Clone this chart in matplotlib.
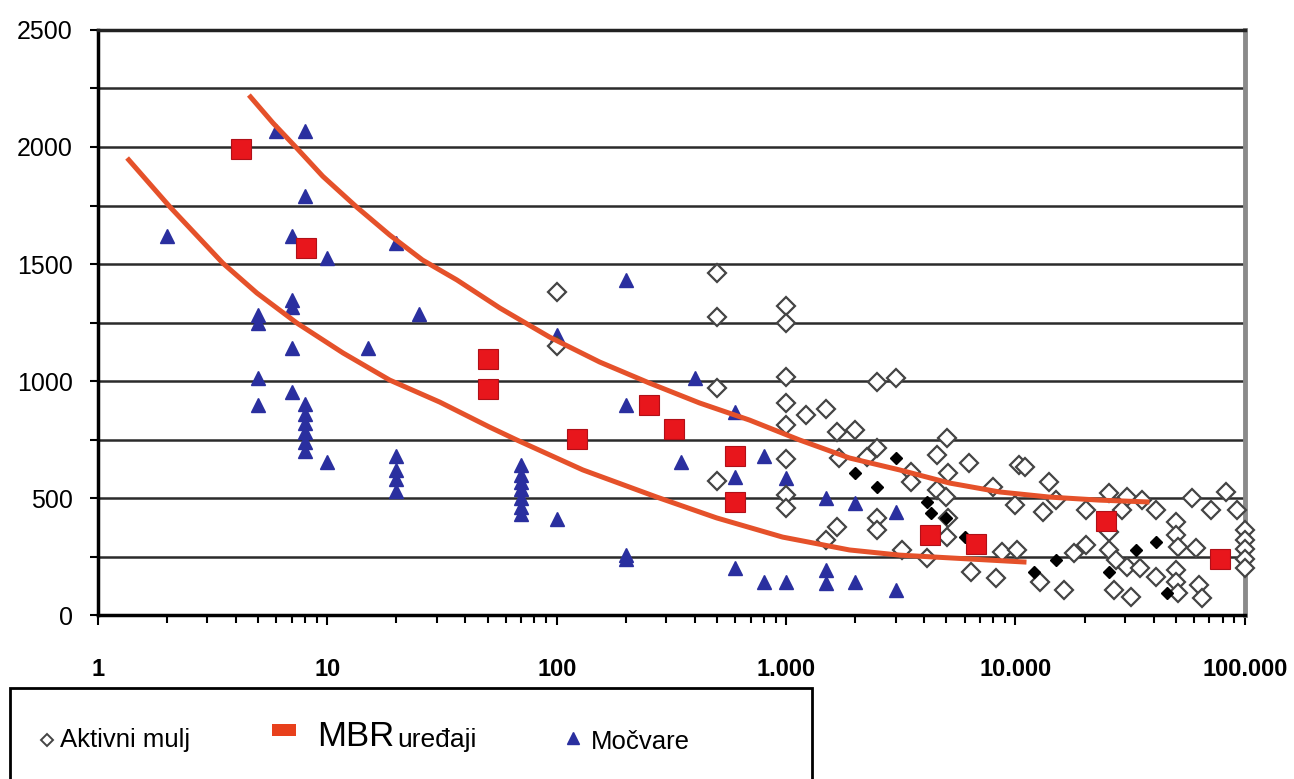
import matplotlib
matplotlib.use('Agg')
import matplotlib.pyplot as plt
import matplotlib.ticker as mticker
import matplotlib.patches as mpatches

plt.rcParams['font.family'] = ['Liberation Sans', 'DejaVu Sans']

# Aktivni mulj - open diamonds
am_x = [100, 100, 500, 500, 500, 500, 1000, 1000, 1000, 1000, 1000, 1000, 1000, 1000,
        1220, 1500, 1660, 2000, 1700, 2500, 3000, 2500, 2250, 5050, 4550, 5100, 3500,
        3500, 4550, 5000, 2500, 2500, 1660, 1500, 3200, 5050, 4100, 6300, 10400, 11000,
        14000, 7950, 10000, 13200, 20400, 15000, 5100, 8700, 10200, 6400, 8200, 12800,
        16300, 18000, 20400, 25700, 30600, 35500, 41000, 29200, 59000, 71000, 83000,
        92000, 25700, 50000, 50000, 51000, 61000, 25700, 27500, 30600, 34800, 41000,
        50000, 50000, 63000, 26900, 32000, 65000, 51000, 100000, 100000, 100000,
        100000, 100000]
am_y = [1380, 1150, 1462, 1275, 968, 573, 1322, 1248, 1017, 906, 812, 668, 513, 457,
        855, 880, 782, 790, 670, 996, 1013, 714, 675, 756, 684, 607, 611,
        568, 534, 504, 415, 363, 376, 320, 278, 333, 244, 650, 641, 632,
        568, 547, 470, 440, 449, 491, 415, 269, 278, 184, 158, 141,
        107, 265, 299, 521, 504, 491, 449, 449, 500, 449, 526,
        449, 355, 397, 342, 291, 286, 278, 235, 205, 201, 162,
        192, 141, 128, 107, 77, 73, 94, 363, 320, 280,
        240, 200]

# Aktivni mulj - filled black diamonds
amb_x = [3000, 2000, 2500, 4100, 4300, 5000, 15000, 12000, 6000, 33700, 41000, 25700, 46000]
amb_y = [671, 607, 547, 483, 436, 415, 235, 184, 333, 278, 312, 184, 94]

# MBR uredaji - red squares
mbr_x = [4.2, 8.1, 50, 50, 122, 252, 323, 600, 600, 4220, 6700, 24900, 78200]
mbr_y = [1990, 1570, 1094, 966, 752, 897, 795, 680, 483, 342, 303, 402, 239]

# Mocvare - blue triangles
mo_x = [2, 6, 8, 8, 7, 10, 20, 5, 5, 7, 7, 25, 15, 7, 5, 5, 7,
        8, 8, 8, 8, 8, 8, 10, 20, 20, 20, 20,
        70, 70, 70, 70, 70, 70, 70, 100, 100, 200, 200, 200, 200,
        350, 400, 600, 600, 600, 800, 800, 1000, 1000,
        1500, 1500, 1500, 2000, 3000, 2000, 3000]
mo_y = [1620, 2070, 2070, 1790, 1618, 1525, 1590, 1282, 1250, 1346, 1316, 1285, 1140, 1141, 1013, 897, 953,
        900, 860, 820, 780, 740, 700, 655, 680, 620, 580, 530,
        640, 600, 570, 540, 500, 460, 430, 410, 1197, 1432, 897, 255, 240,
        654, 1013, 868, 590, 200, 680, 141, 585, 141,
        500, 192, 137, 479, 440, 141, 107]

# trend curves
low_x = [1.34, 2.06, 3.5, 4.93, 7.36, 11.7, 18.7, 30.9, 51, 67, 130, 273, 498,
         966, 1890, 3125, 11170]
low_y = [1953, 1744, 1504, 1376, 1248, 1120, 1004, 910, 803, 748, 620, 504, 415,
         333, 278, 256, 226]
up_x = [4.55, 5.79, 7.36, 9.55, 13.4, 18.7, 26, 36.7, 56.5, 93, 154, 254, 420,
        693, 1145, 1890, 3125, 5160, 8510, 14060, 23200, 38400]
up_y = [2222, 2103, 1995, 1875, 1744, 1624, 1517, 1432, 1312, 1188, 1081, 991, 906,
        833, 748, 671, 620, 564, 526, 504, 491, 483]

fig = plt.figure(figsize=(12.94, 7.79), dpi=100)
ax = fig.add_axes([0.0757, 0.2105, 0.8863, 0.751])

for yv in range(250, 2500, 250):
    ax.axhline(yv, color='#2b2b2b', lw=1.8, zorder=1)

ax.plot(low_x, low_y, color='#e5512a', lw=3.6, zorder=4, solid_capstyle='butt')
ax.plot(up_x, up_y, color='#e5512a', lw=3.6, zorder=4, solid_capstyle='butt')

ax.plot(mo_x, mo_y, linestyle='None', marker='^', ms=10.5, color='#2a2f9f',
        mec='#2a2f9f', zorder=3)
ax.plot(am_x, am_y, linestyle='None', marker='D', ms=9.5, mfc='white',
        mec='#444444', mew=1.6, zorder=3, clip_on=False)
ax.plot(amb_x, amb_y, linestyle='None', marker='D', ms=6.5, color='black', zorder=3)
ax.plot(mbr_x, mbr_y, linestyle='None', marker='s', ms=14, mfc='#e8161c',
        mec='#b01018', mew=0.8, zorder=5)

ax.set_xscale('log')
ax.set_xlim(1, 100000)
ax.set_ylim(0, 2500)
ax.set_yticks(range(0, 2501, 500))
ax.yaxis.set_minor_locator(mticker.MultipleLocator(250))
ax.set_xticks([1, 10, 100, 1000, 10000, 100000])
ax.set_xticklabels(['1', '10', '100', '1.000', '10.000', '100.000'])
ax.xaxis.set_minor_locator(mticker.LogLocator(base=10, subs=range(2, 10)))
ax.xaxis.set_minor_formatter(mticker.NullFormatter())

ax.tick_params(axis='x', which='major', direction='out', length=7, width=1.5,
               pad=24, labelsize=17)
ax.tick_params(axis='x', which='minor', direction='out', length=6, width=1.5)
ax.tick_params(axis='y', which='both', direction='out', length=6, width=1.5,
               pad=12, labelsize=18)
for lab in ax.get_xticklabels():
    lab.set_fontweight('bold')

ax.spines['left'].set_linewidth(2.5)
ax.spines['left'].set_color('black')
ax.spines['bottom'].set_linewidth(2.5)
ax.spines['bottom'].set_color('black')
ax.spines['top'].set_linewidth(2.5)
ax.spines['top'].set_color('#222222')
ax.spines['right'].set_linewidth(3.5)
ax.spines['right'].set_color('#8a8a8a')

# legend box
box = mpatches.Rectangle((0.0077, -0.02), 0.62, 0.137, transform=fig.transFigure,
                         fill=False, edgecolor='black', lw=2)
fig.patches.append(box)
ly = 0.05
fig.lines.append(plt.Line2D([0.036], [ly], transform=fig.transFigure, marker='D', ms=6,
                            mfc='white', mec='#444444', mew=1.4, linestyle='None'))
fig.text(0.046, ly, 'Aktivni mulj', fontsize=18.5, va='center', ha='left')
fig.patches.append(mpatches.Rectangle((0.210, 0.055), 0.019, 0.016, transform=fig.transFigure,
                                      facecolor='#e8401c', edgecolor='none'))
fig.text(0.245, ly + 0.004, 'MBR', fontsize=25, va='center', ha='left')
fig.text(0.307, ly, 'uređaji', fontsize=19, va='center', ha='left')
fig.lines.append(plt.Line2D([0.443], [ly + 0.002], transform=fig.transFigure, marker='^', ms=9,
                            color='#2a2f9f', linestyle='None'))
fig.text(0.457, ly - 0.003, 'Močvare', fontsize=18.5, va='center', ha='left')

fig.savefig('out.png', dpi=100)
